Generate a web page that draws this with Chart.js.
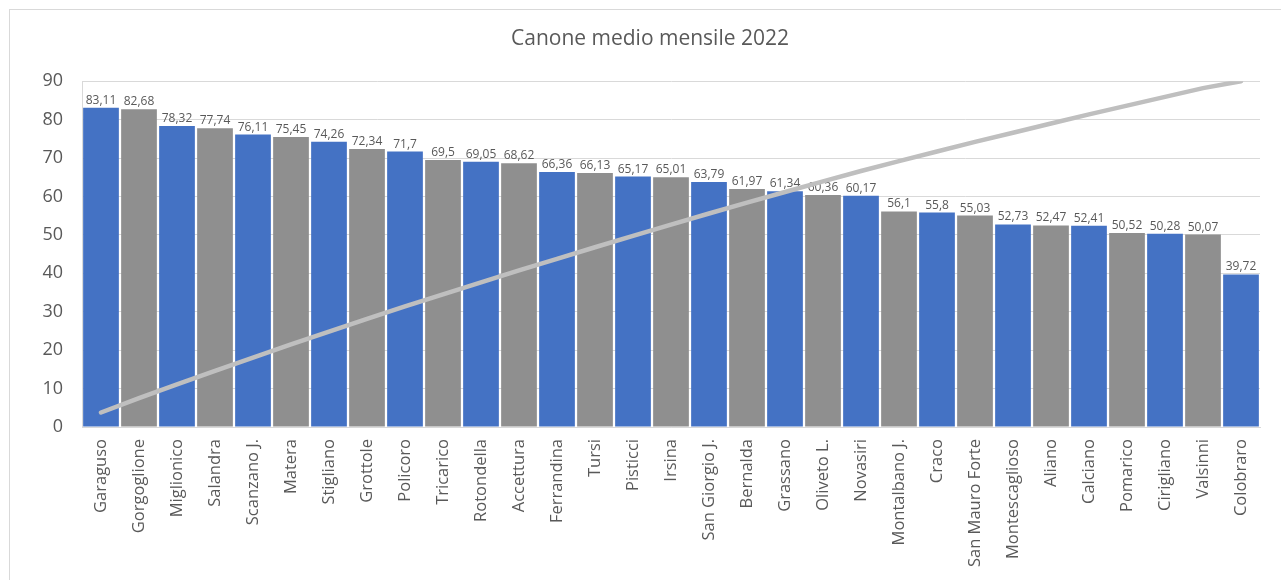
<!DOCTYPE html>
<html lang="it">
<head>
<meta charset="utf-8">
<title>Canone medio mensile 2022</title>
<script src="https://cdn.jsdelivr.net/npm/chart.js@4/dist/chart.umd.min.js"></script>
<style>
  html, body { margin: 0; padding: 0; background: #fff; overflow: hidden; }
  #cornice {
    position: absolute; left: 9px; top: 9px; width: 1300px; height: 600px;
    border: 1px solid #D9D9D9; box-sizing: border-box;
  }
  #grafico { position: absolute; left: 0; top: 0; }
</style>
</head>
<body>
<div id="cornice"></div>
<canvas id="grafico" width="1281" height="580"></canvas>
<script>
// comuni in ordine decrescente di canone
const comuni = [
  "Garaguso", "Gorgoglione", "Miglionico", "Salandra", "Scanzano J.", "Matera",
  "Stigliano", "Grottole", "Policoro", "Tricarico", "Rotondella", "Accettura",
  "Ferrandina", "Tursi", "Pisticci", "Irsina", "San Giorgio J.", "Bernalda",
  "Grassano", "Oliveto L.", "Novasiri", "Montalbano J.", "Craco", "San Mauro Forte",
  "Montescaglioso", "Aliano", "Calciano", "Pomarico", "Cirigliano", "Valsinni", "Colobraro"
];

// canone medio mensile (€/mese)
const canone = [
  83.11, 82.68, 78.32, 77.74, 76.11, 75.45, 74.26, 72.34, 71.7, 69.5, 69.05, 68.62,
  66.36, 66.13, 65.17, 65.01, 63.79, 61.97, 61.34, 60.36, 60.17, 56.1, 55.8, 55.03,
  52.73, 52.47, 52.41, 50.52, 50.28, 50.07, 39.72
];

// percentuale cumulata (asse secondario nascosto, 0-100)
const cumulata = [
  4.19, 8.36, 12.30, 16.22, 20.06, 23.86, 27.60, 31.25, 34.86, 38.36, 41.84, 45.30,
  48.64, 51.98, 55.26, 58.54, 61.75, 64.87, 67.97, 71.01, 74.04, 76.87, 79.68, 82.45,
  85.11, 87.75, 90.39, 92.94, 95.47, 98.00, 100
];

const tickY = [0, 10, 20, 30, 40, 50, 60, 70, 80, 90];

const BLU = '#4472C4';
const GRIGIO = '#8F8F8F';
const TESTO = '#595959';
const GRIGLIA = '#D9D9D9';
const FONT = '"Open Sans", "DejaVu Sans", sans-serif';

// etichette sopra le barre, con la virgola decimale
const etichetteValori = {
  id: 'etichetteValori',
  afterDatasetDraw(chart, args) {
    if (args.index !== 0) return;
    const ctx = chart.ctx;
    ctx.save();
    ctx.font = '12px ' + FONT;
    ctx.fillStyle = TESTO;
    ctx.textAlign = 'center';
    ctx.textBaseline = 'alphabetic';
    args.meta.data.forEach((bar, i) => {
      ctx.fillText(String(canone[i]).replace('.', ','), bar.x, bar.y - 4);
    });
    ctx.restore();
  }
};

new Chart(document.getElementById('grafico'), {
  data: {
    labels: comuni,
    datasets: [
      {
        type: 'bar',
        data: canone,
        backgroundColor: c => (c.dataIndex % 2 ? GRIGIO : BLU),
        barPercentage: 1,
        categoryPercentage: 0.94,
        yAxisID: 'y',
        order: 2
      },
      {
        type: 'line',
        data: cumulata,
        borderColor: '#BFBFBF',
        borderWidth: 4.5,
        borderCapStyle: 'round',
        pointRadius: 0,
        tension: 0,
        yAxisID: 'y1',
        order: 1
      }
    ]
  },
  options: {
    responsive: false,
    animation: false,
    layout: { padding: { left: 40, right: 21, top: 0, bottom: 0 } },
    plugins: {
      legend: { display: false },
      tooltip: { enabled: false },
      title: {
        display: true,
        text: 'Canone medio mensile 2022',
        color: TESTO,
        font: { family: FONT, size: 21, weight: 'normal' },
        padding: { top: 26, bottom: 30 }
      }
    },
    scales: {
      x: {
        grid: { display: false, drawTicks: false },
        border: { display: true, color: GRIGLIA },
        ticks: {
          autoSkip: false,
          maxRotation: 90,
          minRotation: 90,
          padding: 12,
          color: TESTO,
          font: { family: FONT, size: 16.5 }
        },
        afterFit: s => { s.height = 153; }
      },
      y: {
        min: 0,
        max: 90,
        afterBuildTicks: s => { s.ticks = tickY.map(v => ({ value: v })); },
        grid: { color: GRIGLIA, drawTicks: false },
        border: { display: true, color: GRIGLIA },
        ticks: {
          padding: 19,
          color: TESTO,
          font: { family: FONT, size: 18 }
        },
        afterFit: s => { s.width = 42; }
      },
      y1: {
        min: 0,
        max: 100,
        display: false
      }
    }
  },
  plugins: [etichetteValori]
});
</script>
</body>
</html>
